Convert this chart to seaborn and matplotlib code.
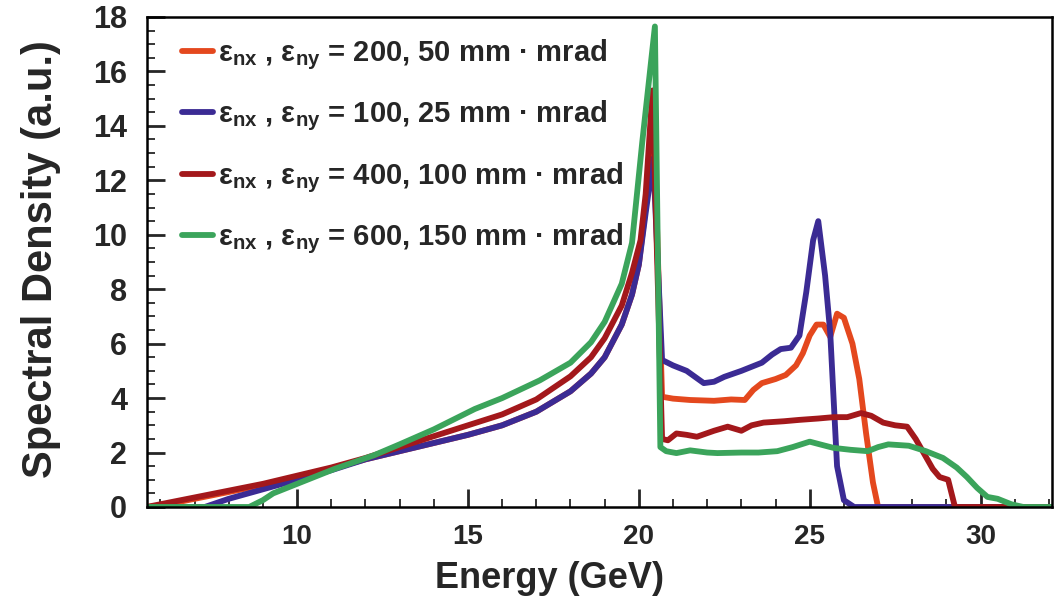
import numpy as np
import pandas as pd
import matplotlib
matplotlib.use("Agg")
import matplotlib.pyplot as plt
import seaborn as sns
from matplotlib.ticker import MultipleLocator

# ---- data ----
labels = [
    r"ε$_{\mathbf{nx}}$ , ε$_{\mathbf{ny}}$ = 200, 50 mm · mrad",
    r"ε$_{\mathbf{nx}}$ , ε$_{\mathbf{ny}}$ = 100, 25 mm · mrad",
    r"ε$_{\mathbf{nx}}$ , ε$_{\mathbf{ny}}$ = 400, 100 mm · mrad",
    r"ε$_{\mathbf{nx}}$ , ε$_{\mathbf{ny}}$ = 600, 150 mm · mrad",
]
colors = ["#E4481E", "#3B2B94", "#A3181B", "#3BA45B"]

e_orange = [5.6, 6.0, 7.0, 8.0, 9.0, 10.0, 11.0, 12.0, 13.0, 14.0, 15.0, 16.0, 17.0, 18.0, 18.6, 19.0,
            19.5, 19.8, 20.0, 20.2, 20.42, 20.68, 21.0, 21.5, 22.2, 22.7, 23.1, 23.35, 23.6, 24.0, 24.3,
            24.6, 24.8, 25.0, 25.2, 25.4, 25.6, 25.8, 26.0, 26.25, 26.45, 26.65, 26.85, 27.0, 32.1]
s_orange = [0.0, 0.05, 0.3, 0.55, 0.8, 1.1, 1.4, 1.75, 2.05, 2.35, 2.65, 3.0, 3.5, 4.25, 4.9, 5.5,
            6.7, 7.8, 8.9, 11.0, 15.0, 4.05, 3.98, 3.93, 3.9, 3.95, 3.93, 4.3, 4.55, 4.7, 4.85,
            5.2, 5.65, 6.3, 6.7, 6.7, 6.25, 7.1, 6.95, 6.0, 4.7, 2.7, 0.9, 0.0, 0.0]

e_blue = [5.6, 7.3, 8.0, 9.0, 10.0, 11.0, 12.0, 13.0, 14.0, 15.0, 16.0, 17.0, 18.0, 18.6, 19.0, 19.5,
          19.8, 20.0, 20.2, 20.42, 20.68, 21.0, 21.4, 21.9, 22.2, 22.5, 23.0, 23.6, 23.9, 24.15, 24.45,
          24.7, 24.9, 25.1, 25.25, 25.45, 25.6, 25.8, 26.0, 26.3, 32.1]
s_blue = [0.0, 0.0, 0.3, 0.65, 1.0, 1.35, 1.75, 2.05, 2.35, 2.65, 3.0, 3.5, 4.25, 4.9, 5.5, 6.7,
          7.8, 8.9, 10.8, 12.8, 5.4, 5.2, 5.0, 4.55, 4.6, 4.78, 5.0, 5.3, 5.6, 5.8, 5.85,
          6.3, 7.9, 9.8, 10.5, 8.5, 6.4, 1.5, 0.25, 0.0, 0.0]

e_red = [5.6, 6.0, 7.0, 8.0, 9.0, 10.0, 11.0, 12.0, 13.0, 14.0, 15.0, 16.0, 17.0, 18.0, 18.6, 19.0,
         19.5, 19.8, 20.05, 20.2, 20.4, 20.68, 20.85, 21.1, 21.4, 21.7, 22.2, 22.6, 23.0, 23.3, 23.65,
         24.25, 24.7, 25.25, 25.7, 26.1, 26.5, 26.8, 27.15, 27.5, 27.85, 28.1, 28.4, 28.6, 28.8, 29.05,
         29.25, 32.1]
s_red = [0.0, 0.1, 0.35, 0.6, 0.85, 1.15, 1.45, 1.8, 2.2, 2.6, 3.0, 3.4, 3.95, 4.8, 5.5, 6.2,
         7.4, 8.6, 9.8, 11.5, 15.3, 2.5, 2.45, 2.7, 2.65, 2.58, 2.8, 2.95, 2.8, 3.0, 3.1,
         3.15, 3.2, 3.25, 3.3, 3.3, 3.45, 3.35, 3.1, 3.0, 2.95, 2.5, 1.84, 1.4, 1.1, 1.0,
         0.0, 0.0]

e_green = [5.6, 8.6, 9.0, 9.3, 10.0, 10.3, 11.1, 12.25, 13.0, 14.0, 15.2, 16.0, 17.1, 18.0, 18.6, 19.0,
           19.5, 19.8, 20.1, 20.47, 20.63, 20.8, 21.1, 21.5, 22.0, 22.3, 23.0, 23.5, 24.05, 24.5, 25.0,
           25.3, 25.7, 26.2, 26.7, 27.0, 27.3, 27.9, 28.4, 28.9, 29.3, 29.6, 29.9, 30.2, 30.5, 30.9,
           31.25, 32.1]
s_green = [0.0, 0.0, 0.25, 0.5, 0.85, 1.0, 1.4, 1.9, 2.3, 2.85, 3.6, 4.0, 4.65, 5.3, 6.05, 6.8,
           8.2, 9.7, 13.4, 17.65, 2.2, 2.05, 1.98, 2.08, 2.0, 1.98, 2.0, 2.0, 2.05, 2.2, 2.4,
           2.3, 2.17, 2.1, 2.05, 2.2, 2.3, 2.25, 2.05, 1.8, 1.45, 1.1, 0.7, 0.37, 0.3, 0.1,
           0.0, 0.0]

x_ticks = [10, 15, 20, 25, 30]
y_ticks = [0, 2, 4, 6, 8, 10, 12, 14, 16, 18]

frames = []
for lab, e, s in zip(labels, [e_orange, e_blue, e_red, e_green],
                     [s_orange, s_blue, s_red, s_green]):
    frames.append(pd.DataFrame({"Energy": e, "Density": s, "series": lab}))
df = pd.concat(frames, ignore_index=True)

sns.set_theme(style="ticks")
plt.rcParams["font.family"] = ["Liberation Sans", "DejaVu Sans"]
plt.rcParams["font.weight"] = "bold"
plt.rcParams["mathtext.fontset"] = "custom"
plt.rcParams["mathtext.rm"] = "Liberation Sans"
plt.rcParams["mathtext.bf"] = "Liberation Sans:bold"

fig = plt.figure(figsize=(10.63, 6.05), dpi=100)
ax = fig.add_axes([0.138, 0.162, 0.852, 0.81])

sns.lineplot(data=df, x="Energy", y="Density", hue="series", hue_order=labels,
             palette=colors, sort=False, estimator=None, linewidth=4.2, ax=ax)

ax.set_xlim(5.6, 32.1)
ax.set_ylim(0, 18)
ax.set_xticks(x_ticks)
ax.set_yticks(y_ticks)
ax.xaxis.set_minor_locator(MultipleLocator(1))
ax.yaxis.set_minor_locator(MultipleLocator(0.5))
ax.tick_params(which="major", direction="in", length=13, width=2, top=False, right=False)
ax.tick_params(which="minor", direction="in", length=6, width=1.3, top=False, right=False)
ax.tick_params(axis="x", which="major", labelsize=20, pad=12)
ax.tick_params(axis="y", which="major", labelsize=22, pad=14)
for lbl in ax.get_xticklabels() + ax.get_yticklabels():
    lbl.set_fontweight("bold")
for sp in ax.spines.values():
    sp.set_visible(True)
    sp.set_linewidth(1.8)
    sp.set_color("black")

ax.set_xlabel("Energy (GeV)", fontsize=26, fontweight="bold")
ax.xaxis.set_label_coords(0.445, -0.11)
ax.set_ylabel("Spectral Density (a.u.)", fontsize=30, fontweight="bold")
ax.yaxis.set_label_coords(-0.095, 0.505)

handles, labs = ax.get_legend_handles_labels()
ax.legend(handles, labs, loc="upper left", bbox_to_anchor=(0.01, 1.012), frameon=False,
          handlelength=1.05, handletextpad=0.2, labelspacing=0.92,
          prop={"weight": "bold", "size": 21})

fig.savefig("out.png", dpi=100)
